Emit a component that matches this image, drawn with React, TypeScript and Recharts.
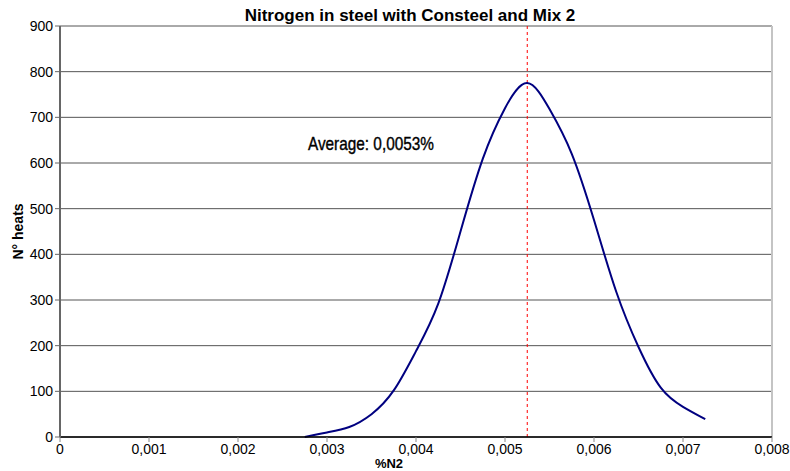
import React from "react";
import {
  LineChart, Line, XAxis, YAxis, CartesianGrid, ReferenceLine, ReferenceDot, Label
} from "recharts";

// %N2 values and the number of heats
const nitrogen = [0.00275, 0.003, 0.00325, 0.0035, 0.00375, 0.004, 0.00425, 0.0045, 0.00475, 0.005, 0.00525, 0.0055, 0.00575, 0.006, 0.00625, 0.0065, 0.00675, 0.007, 0.00725];
const heats = [0, 10, 22, 50, 102, 188, 292, 450, 609, 720, 775, 718, 620, 475, 318, 197, 108, 66, 39];

const xTicks = [0, 0.001, 0.002, 0.003, 0.004, 0.005, 0.006, 0.007, 0.008];
const yTicks = [0, 100, 200, 300, 400, 500, 600, 700, 800, 900];

const average = 0.00525;
const averageText = "Average: 0,0053%";
const title = "Nitrogen in steel with Consteel and Mix 2";

const data = nitrogen.map((n, i) => ({ n, heats: heats[i] }));

const font = "'Liberation Sans', Arial, sans-serif";

const fmtX = (v: number) => (v === 0 ? "0" : v.toFixed(3).replace(".", ","));

export default function App() {
  return (
    <div style={{ position: "absolute", left: 0, top: 0, width: 790, height: 471, background: "#fff", fontFamily: font }}>
      <LineChart
        width={790}
        height={471}
        data={data}
        margin={{ top: 26, right: 18, bottom: 4, left: 0 }}
      >
        <text x={410} y={21} textAnchor="middle" fontFamily={font} fontWeight={700} fontSize={17} fill="#000">
          {title}
        </text>
        <CartesianGrid vertical={false} stroke="#555" strokeWidth={1} />
        <XAxis
          dataKey="n"
          type="number"
          domain={[0, 0.008]}
          ticks={xTicks}
          tickFormatter={fmtX}
          height={30}
          tickSize={5}
          axisLine={{ stroke: "#000", strokeWidth: 1.5 }}
          tickLine={{ stroke: "#888" }}
          tick={{ fill: "#000", fontSize: 14, fontFamily: font }}
          interval={0}
        >
          <Label
            content={(p: any) => {
              const vb = p.viewBox || {};
              return (
                <text x={389} y={(vb.y ?? 437) + 31} textAnchor="middle" fontFamily={font} fontWeight={700} fontSize={13} fill="#000">
                  %N2
                </text>
              );
            }}
          />
        </XAxis>
        <YAxis
          type="number"
          domain={[0, 900]}
          ticks={yTicks}
          width={60}
          tickSize={5}
          axisLine={{ stroke: "#666", strokeWidth: 2 }}
          tickLine={{ stroke: "#666" }}
          tick={{ fill: "#000", fontSize: 14, fontFamily: font }}
          interval={0}
        >
          <Label
            value="N° heats"
            angle={-90}
            position="insideLeft"
            offset={18}
            style={{ fontFamily: font, fontWeight: 700, fontSize: 14, fill: "#000", textAnchor: "middle" }}
          />
        </YAxis>
        <ReferenceLine x={0.008} stroke="#c4c4c4" strokeWidth={2} />
        <ReferenceLine x={average} stroke="#ff0000" strokeDasharray="3 3" strokeWidth={1} />
        <ReferenceDot
          x={0.003494}
          y={644}
          r={0}
          shape={(p: any) => (
            <text
              x={p.cx}
              y={p.cy + 7}
              textAnchor="middle"
              fontFamily={font}
              fontSize={19}
              fill="#000"
              stroke="#000"
              strokeWidth={0.4}
              textLength={126}
              lengthAdjust="spacingAndGlyphs"
            >
              {averageText}
            </text>
          )}
        />
        <Line
          type="natural"
          dataKey="heats"
          stroke="#000080"
          strokeWidth={2}
          dot={false}
          isAnimationActive={false}
        />
      </LineChart>
    </div>
  );
}
